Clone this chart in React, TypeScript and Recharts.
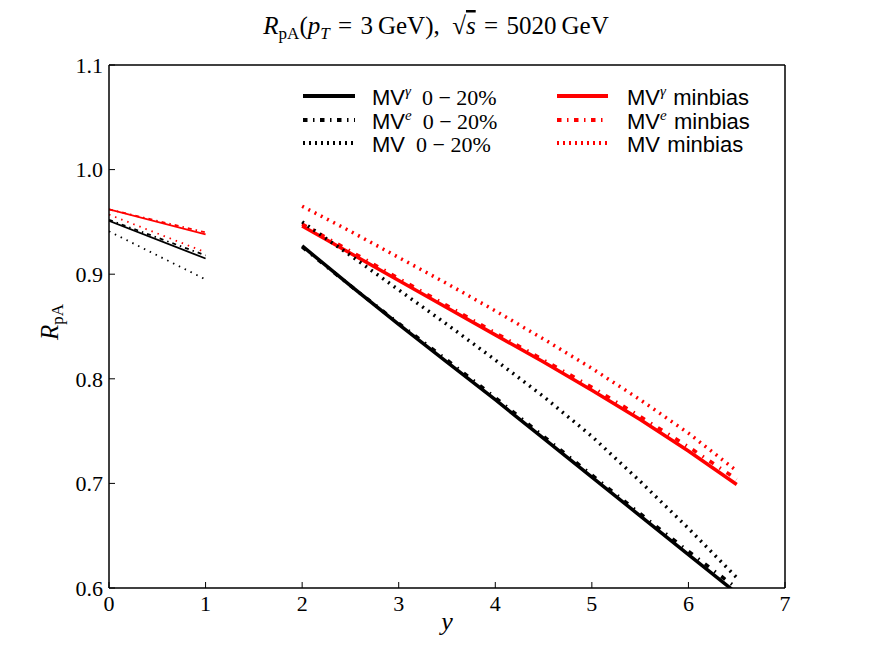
import { Line, LineChart, XAxis, YAxis } from "recharts";

// rapidity grid for the two groups of curves
const thinX = [0, 1];
const thickX = [2, 2.5, 3, 3.5, 4, 4.5, 5, 5.5, 6, 6.5];

// thin curves, y = 0 .. 1
const blackSolidThin = [0.951, 0.915];
const blackDashThin = [0.952, 0.918];
const blackDotThin = [0.941, 0.895];
const redSolidThin = [0.962, 0.938];
const redDashThin = [0.962, 0.94];
const redDotThin = [0.957, 0.921];

// thick curves, y = 2 .. 6.5
const blackSolid = [0.927, 0.889, 0.852, 0.816, 0.78, 0.743, 0.706, 0.669, 0.632, 0.595];
const blackDash = [0.926, 0.889, 0.853, 0.818, 0.782, 0.745, 0.708, 0.671, 0.635, 0.6];
const blackDot = [0.95, 0.918, 0.885, 0.852, 0.818, 0.783, 0.745, 0.702, 0.657, 0.61];
const redSolid = [0.946, 0.92, 0.894, 0.868, 0.842, 0.816, 0.789, 0.761, 0.731, 0.699];
const redDash = [0.948, 0.922, 0.896, 0.87, 0.844, 0.818, 0.792, 0.764, 0.735, 0.704];
const redDot = [0.965, 0.941, 0.916, 0.891, 0.865, 0.838, 0.81, 0.78, 0.748, 0.712];

const xTicks = [0, 1, 2, 3, 4, 5, 6, 7];
const yTicks = [0.6, 0.7, 0.8, 0.9, 1.0, 1.1];

const thinData = thinX.map((x, i) => ({
  x,
  bs: blackSolidThin[i],
  bd: blackDashThin[i],
  bo: blackDotThin[i],
  rs: redSolidThin[i],
  rd: redDashThin[i],
  ro: redDotThin[i],
}));

const thickData = thickX.map((x, i) => ({
  x,
  bs: blackSolid[i],
  bd: blackDash[i],
  bo: blackDot[i],
  rs: redSolid[i],
  rd: redDash[i],
  ro: redDot[i],
}));

const RED = "#ff0000";
const BLACK = "#000000";
const SERIF = "'Liberation Serif', serif";
const SANS = "'Liberation Sans', sans-serif";

const THICK = 3.5;
const THIN = 1.8;
const dashThick = "5 7 1.5 7";
const dotThick = "2 5";
const dashThin = "4 4 1.5 4";
const dotThin = "1.5 5";

const series = [
  { key: "rs", color: RED, dash: undefined, thinDash: undefined },
  { key: "rd", color: RED, dash: dashThick, thinDash: dashThin },
  { key: "ro", color: RED, dash: dotThick, thinDash: dotThin },
  { key: "bo", color: BLACK, dash: dotThick, thinDash: dotThin },
  { key: "bd", color: BLACK, dash: dashThick, thinDash: dashThin },
  { key: "bs", color: BLACK, dash: undefined, thinDash: undefined },
];

const legendRows = [
  { sup: "γ", label: "0 − 20%", color: BLACK, dash: undefined },
  { sup: "e", label: "0 − 20%", color: BLACK, dash: "4.5 5.5 1.5 5.5" },
  { sup: "", label: "0 − 20%", color: BLACK, dash: "2 4" },
];
const legendRowsRed = [
  { sup: "γ", color: RED, dash: undefined },
  { sup: "e", color: RED, dash: "4.5 5.5 1.5 5.5" },
  { sup: "", color: RED, dash: "2 4" },
];
const rowY = [96, 120, 143];

function Overlay() {
  return (
    <svg
      width={872}
      height={654}
      style={{ position: "absolute", left: 0, top: 0, pointerEvents: "none" }}
    >
      <text x={436} y={34} textAnchor="middle" fontFamily={SERIF} fontSize={25}>
        <tspan fontStyle="italic">R</tspan>
        <tspan fontSize={17} dy={5}>pA</tspan>
        <tspan dy={-5}>(</tspan>
        <tspan fontStyle="italic">p</tspan>
        <tspan fontStyle="italic" fontSize={17} dy={5}>T</tspan>
        <tspan dy={-5}>{"\u2004=\u20043\u2009GeV),\u2002"}</tspan>
        <tspan>√</tspan>
        <tspan fontStyle="italic" textDecoration="overline">s</tspan>
        <tspan>{"\u2004=\u20045020\u2009GeV"}</tspan>
      </text>

      <text x={447} y={630} textAnchor="middle" fontFamily={SERIF} fontSize={26} fontStyle="italic">
        y
      </text>

      <text
        transform="translate(58,322) rotate(-90)"
        textAnchor="middle"
        fontFamily={SERIF}
        fontSize={25}
      >
        <tspan fontStyle="italic">R</tspan>
        <tspan fontSize={17} dy={5}>pA</tspan>
      </text>

      {legendRows.map((r, i) => (
        <g key={"b" + i}>
          <line x1={303} x2={355} y1={rowY[i]} y2={rowY[i]} stroke={r.color} strokeWidth={4} strokeDasharray={r.dash} />
          <text x={372} y={rowY[i] + 9} fontSize={22} fontFamily={SANS}>
            <tspan>MV</tspan>
            {r.sup ? (
              <tspan fontFamily={SERIF} fontStyle="italic" fontSize={15} dy={-9}>
                {r.sup}
              </tspan>
            ) : null}
            <tspan fontFamily={SERIF} dy={r.sup ? 9 : 0}>
              {"\u2002" + r.label}
            </tspan>
          </text>
        </g>
      ))}
      {legendRowsRed.map((r, i) => (
        <g key={"r" + i}>
          <line x1={557} x2={608} y1={rowY[i]} y2={rowY[i]} stroke={r.color} strokeWidth={4} strokeDasharray={r.dash} />
          <text x={627} y={rowY[i] + 9} fontSize={22} fontFamily={SANS}>
            <tspan>MV</tspan>
            {r.sup ? (
              <tspan fontFamily={SERIF} fontStyle="italic" fontSize={15} dy={-9}>
                {r.sup}
              </tspan>
            ) : null}
            <tspan dy={r.sup ? 9 : 0}>{"\u2004minbias"}</tspan>
          </text>
        </g>
      ))}
    </svg>
  );
}

export default function App() {
  const tickFont = { fontSize: 22, fontFamily: SERIF, fill: "#000" };
  return (
    <div style={{ position: "absolute", left: 0, top: 0, width: 872, height: 654, background: "#fff" }}>
      <LineChart width={872} height={654} margin={{ top: 64, right: 86, bottom: 26, left: 49 }}>
        <XAxis
          xAxisId="b"
          type="number"
          dataKey="x"
          domain={[0, 7]}
          ticks={xTicks}
          allowDataOverflow
          height={40}
          tickSize={-6}
          tickMargin={13}
          tick={tickFont}
          stroke="#000"
          axisLine={{ stroke: "#000", strokeWidth: 1.5 }}
        />
        <XAxis
          xAxisId="t"
          orientation="top"
          type="number"
          dataKey="x"
          domain={[0, 7]}
          ticks={xTicks}
          height={1}
          tickSize={-6}
          tick={false}
          stroke="#000"
          axisLine={{ stroke: "#000", strokeWidth: 1.5 }}
        />
        <YAxis
          yAxisId="l"
          type="number"
          domain={[0.6, 1.1]}
          ticks={yTicks}
          allowDataOverflow
          width={60}
          tickSize={-6}
          tickMargin={12}
          tick={tickFont}
          tickFormatter={(v: number) => v.toFixed(1)}
          stroke="#000"
          axisLine={{ stroke: "#000", strokeWidth: 1.5 }}
        />
        <YAxis
          yAxisId="r"
          orientation="right"
          type="number"
          domain={[0.6, 1.1]}
          ticks={yTicks}
          width={1}
          tickSize={-6}
          tick={false}
          stroke="#000"
          axisLine={{ stroke: "#000", strokeWidth: 1.5 }}
        />
        {series.map((s) => (
          <Line
            key={"thin-" + s.key}
            xAxisId="b"
            yAxisId="l"
            data={thinData}
            dataKey={s.key}
            type="linear"
            stroke={s.color}
            strokeWidth={THIN}
            strokeDasharray={s.thinDash}
            dot={false}
            activeDot={false}
            isAnimationActive={false}
          />
        ))}
        {series.map((s) => (
          <Line
            key={"thick-" + s.key}
            xAxisId="b"
            yAxisId="l"
            data={thickData}
            dataKey={s.key}
            type="linear"
            stroke={s.color}
            strokeWidth={THICK}
            strokeDasharray={s.dash}
            dot={false}
            activeDot={false}
            isAnimationActive={false}
          />
        ))}
      </LineChart>
      <Overlay />
    </div>
  );
}
